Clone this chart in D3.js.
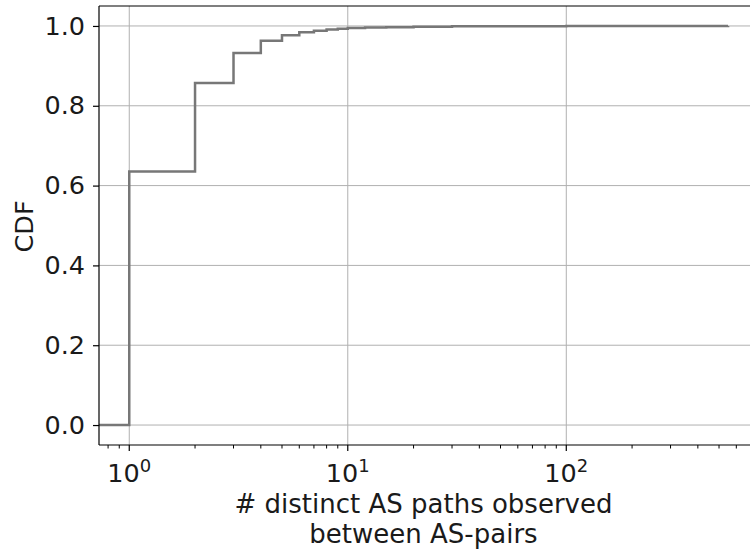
<!DOCTYPE html>
<html>
<head>
<meta charset="utf-8">
<script src="https://cdn.jsdelivr.net/npm/d3@7"></script>
<style>
	body { margin: 0; background: #fff; }
	svg { display: block; font-family: "DejaVu Sans", sans-serif; }
	.grid line { stroke: #b0b0b0; stroke-width: 1; }
</style>
</head>
<body>
<script>
	// distinct AS path counts where the CDF steps, and the CDF value after each step
	var pathCounts = [1, 2, 3, 4, 5, 6, 7, 8, 9, 10, 12, 15, 20, 30, 50, 100, 550];
	var cdfValues  = [0.635, 0.857, 0.932, 0.963, 0.977, 0.984, 0.988, 0.991, 0.993, 0.995, 0.996, 0.997, 0.998, 0.999, 0.9995, 0.9998, 1.0];
	var yTicks     = [0.0, 0.2, 0.4, 0.6, 0.8, 1.0];
	var xMajorTicks = [1, 10, 100];
	var xAxisLabel = ["# distinct AS paths observed", "between AS-pairs"];
	var yAxisLabel = "CDF";

	var W = 750, H = 551;
	var margin = { top: 6, left: 99, bottom: 106, right: -20 };
	var plotLeft = margin.left, plotRight = W - margin.right,
		plotTop = margin.top, plotBottom = H - margin.bottom;

	var svg = d3.select("body").append("svg")
		.attr("width", W).attr("height", H);

	// log x scale: decade spans ~218.5px, 10^0 lands at x=129
	var x = d3.scaleLog()
		.domain([0.727, Math.pow(10, (plotRight - 129.3) / 218.5)])
		.range([plotLeft, plotRight]);

	var y = d3.scaleLinear()
		.domain([-0.05, 1.05])
		.range([plotBottom, plotTop]);

	// grid
	var grid = svg.append("g").attr("class", "grid");
	grid.selectAll(".gx").data(xMajorTicks).enter().append("line")
		.attr("x1", d => x(d)).attr("x2", d => x(d))
		.attr("y1", plotTop).attr("y2", plotBottom);
	grid.selectAll(".gy").data(yTicks).enter().append("line")
		.attr("x1", plotLeft).attr("x2", plotRight)
		.attr("y1", d => y(d)).attr("y2", d => y(d));

	// CDF step line
	var pts = [[x.domain()[0], 0]].concat(pathCounts.map((d, i) => [d, cdfValues[i]]));
	var line = d3.line()
		.x(d => x(d[0]))
		.y(d => y(d[1]))
		.curve(d3.curveStepAfter);
	svg.append("path")
		.datum(pts)
		.attr("d", line)
		.attr("fill", "none")
		.attr("stroke", "#777")
		.attr("stroke-width", 2.5);

	// spines (no right spine visible, axes run past the canvas)
	svg.append("line").attr("x1", plotLeft).attr("x2", plotLeft).attr("y1", plotTop).attr("y2", plotBottom)
		.attr("stroke", "#000").attr("stroke-width", 1.2);
	svg.append("line").attr("x1", plotLeft).attr("x2", plotRight).attr("y1", plotBottom).attr("y2", plotBottom)
		.attr("stroke", "#000").attr("stroke-width", 1.2);
	svg.append("line").attr("x1", plotLeft).attr("x2", plotRight).attr("y1", plotTop).attr("y2", plotTop)
		.attr("stroke", "#000").attr("stroke-width", 1.2);

	// y axis
	var yAxis = d3.axisLeft(y).tickValues(yTicks).tickSize(6).tickPadding(8)
		.tickFormat(d3.format(".1f"));
	var yG = svg.append("g")
		.attr("transform", "translate(" + plotLeft + ",0)")
		.call(yAxis);
	yG.select(".domain").remove();
	yG.selectAll("text").attr("font-size", 25.5).attr("font-family", "DejaVu Sans").attr("fill", "#1a1a1a");
	yG.selectAll("line").attr("stroke", "#000").attr("stroke-width", 1.2);

	// x axis: major ticks with 10^n labels, minor ticks from the log scale
	var minorTicks = x.ticks().filter(d => xMajorTicks.indexOf(d) < 0);
	var xG = svg.append("g").attr("transform", "translate(0," + plotBottom + ")");
	xG.selectAll(".minor").data(minorTicks).enter().append("line")
		.attr("x1", d => x(d)).attr("x2", d => x(d))
		.attr("y1", 0).attr("y2", 3.5)
		.attr("stroke", "#000").attr("stroke-width", 1);
	xG.selectAll(".major").data(xMajorTicks).enter().append("line")
		.attr("x1", d => x(d)).attr("x2", d => x(d))
		.attr("y1", 0).attr("y2", 6)
		.attr("stroke", "#000").attr("stroke-width", 1.2);
	var lbl = xG.selectAll(".lbl").data(xMajorTicks).enter().append("text")
		.attr("x", d => x(d))
		.attr("y", 37)
		.attr("text-anchor", "middle")
		.attr("font-size", 25.5)
		.attr("fill", "#1a1a1a");
	lbl.append("tspan").text("10");
	lbl.append("tspan")
		.attr("font-size", 18)
		.attr("dy", -10)
		.text(d => Math.round(Math.log10(d)));

	// axis labels
	svg.append("text")
		.attr("text-anchor", "middle")
		.attr("font-size", 26)
		.attr("fill", "#1a1a1a")
		.selectAll("tspan").data(xAxisLabel).enter().append("tspan")
		.attr("x", (plotLeft + 748) / 2)
		.attr("y", (d, i) => 513 + i * 30)
		.text(d => d);

	svg.append("text")
		.attr("transform", "translate(33," + ((plotTop + plotBottom) / 2 + 1) + ")rotate(-90)")
		.attr("text-anchor", "middle")
		.attr("font-size", 25.5)
		.attr("fill", "#1a1a1a")
		.text(yAxisLabel);
</script>
</body>
</html>
